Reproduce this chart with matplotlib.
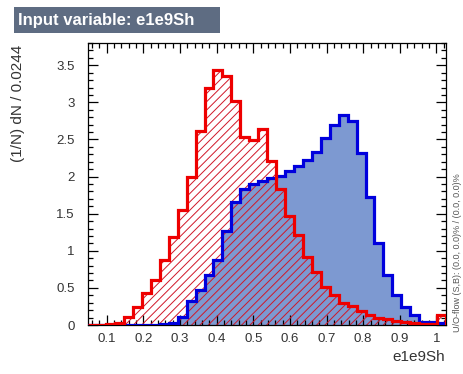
import numpy as np
import matplotlib
matplotlib.use("Agg")
import matplotlib.pyplot as plt
from matplotlib.patches import Rectangle
from matplotlib.ticker import MultipleLocator, FormatStrFormatter

plt.rcParams['font.family'] = ['Liberation Sans', 'DejaVu Sans']
plt.rcParams['hatch.linewidth'] = 0.7

# binning of e1e9Sh: 40 bins of width 0.0244
x_min = 0.05
bin_width = 0.0244
n_bins = 40

# normalised signal (blue) and background (red) shapes
signal = [0.0, 0.0, 0.0, 0.0, 0.0, 0.0, 0.0, 0.005, 0.01, 0.03,
          0.11, 0.32, 0.47, 0.68, 0.87, 1.27, 1.66, 1.83, 1.90, 1.94,
          1.98, 2.01, 2.08, 2.14, 2.23, 2.33, 2.52, 2.70, 2.83, 2.75,
          2.32, 1.72, 1.10, 0.67, 0.40, 0.245, 0.134, 0.045, 0.04, 0.03]
background = [0.0, 0.0, 0.01, 0.03, 0.11, 0.245, 0.425, 0.61, 0.87, 1.18,
              1.55, 2.00, 2.62, 3.20, 3.44, 3.35, 3.02, 2.53, 2.49, 2.64,
              2.21, 1.83, 1.47, 1.21, 0.92, 0.72, 0.51, 0.40, 0.30, 0.25,
              0.19, 0.14, 0.10, 0.08, 0.06, 0.04, 0.03, 0.02, 0.02, 0.14]

edges = x_min + bin_width * np.arange(n_bins + 1)

fig = plt.figure(figsize=(4.63, 3.74), dpi=100)
ax = fig.add_axes([88.3 / 463, 1 - 325 / 374, (446 - 88.3) / 463, (325 - 43) / 374])

# fills first, outlines on top
ax.stairs(signal, edges, fill=True, facecolor='#7d99d1', edgecolor='none', zorder=1)
ax.stairs(background, edges, fill=True, facecolor='none', edgecolor='#d01828',
          hatch='////', linewidth=0, zorder=2)
ax.stairs(signal, edges, color='#0000dd', linewidth=2.3, zorder=3)
ax.stairs(background, edges, color='#ee0000', linewidth=2.3, zorder=4)

ax.set_xlim(edges[0], edges[-1])
ax.set_ylim(0, 3.8)

ax.xaxis.set_major_locator(MultipleLocator(0.1))
ax.xaxis.set_minor_locator(MultipleLocator(0.02))
ax.yaxis.set_major_locator(MultipleLocator(0.5))
ax.yaxis.set_minor_locator(MultipleLocator(0.1))
ax.xaxis.set_major_formatter(FormatStrFormatter('%g'))
ax.yaxis.set_major_formatter(FormatStrFormatter('%g'))

ax.tick_params(which='both', direction='in', top=True, right=True,
               colors='black', labelcolor='#333333', labelsize=9.5, width=0.9)
ax.tick_params(which='major', length=7)
ax.tick_params(which='minor', length=3.5)
ax.tick_params(axis='y', pad=10)
ax.tick_params(axis='x', pad=6)
for s in ax.spines.values():
    s.set_linewidth(0.9)

# axis titles, ROOT style placement
fig.text(18 / 463, 1 - 45 / 374, '(1/N) dN / 0.0244', rotation=90,
         ha='center', va='top', fontsize=11, color='#333333')
fig.text(445 / 463, 1 - 357 / 374, 'e1e9Sh', ha='right', va='center',
         fontsize=11, color='#333333')

# title box
fig.patches.append(Rectangle((14 / 463, 1 - 33 / 374), 206 / 463, 26 / 374,
                             transform=fig.transFigure, facecolor='#5e6c82',
                             edgecolor='none'))
fig.text(18 / 463, 1 - 20 / 374, 'Input variable: e1e9Sh', ha='left', va='center',
         fontsize=12, fontweight='bold', color='white')

# under/overflow info
fig.text(458 / 463, 1 - 332 / 374, 'U/O-flow (S,B): (0.0, 0.0)% / (0.0, 0.0)%',
         rotation=90, ha='center', va='bottom', fontsize=6.5, color='#555555')

fig.savefig('out.png', dpi=100)
